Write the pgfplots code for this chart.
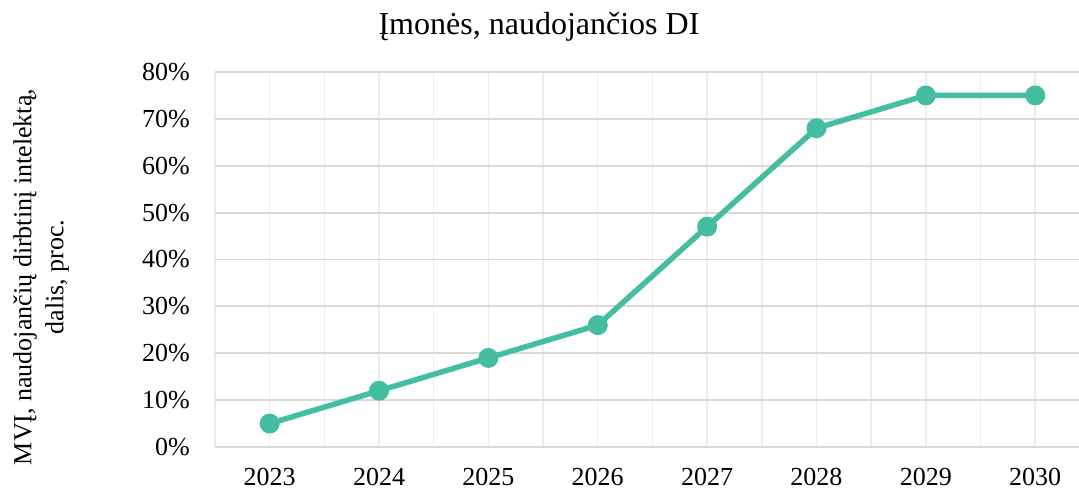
\documentclass[border=0pt]{standalone}
\usepackage{pgfplots}
\pgfplotsset{compat=1.18}
\usepackage{fontspec}
\setmainfont{Liberation Serif}
\definecolor{teal1}{RGB}{69,189,161}
\definecolor{hgrid}{RGB}{217,217,217}
\definecolor{vgrid}{RGB}{236,236,236}
\begin{document}
\begin{tikzpicture}
\useasboundingbox (-215pt,-46pt) rectangle (864pt,447pt);
\begin{axis}[
  at={(0,0)}, anchor=south west,
  width=864pt, height=375pt, scale only axis,
  xmin=2022.5, xmax=2030.4, ymin=0, ymax=80,
  xtick={2023,...,2030},
  minor xtick={2022.5,2023.5,...,2030.5},
  ytick={0,10,...,80},
  axis line style={draw=none},
  major tick length=0pt, minor tick length=0pt,
  xmajorgrids, xminorgrids, ymajorgrids,
  major x grid style={vgrid, line width=1.5pt},
  minor x grid style={vgrid, line width=1.5pt},
  major y grid style={hgrid, line width=1.8pt},
  /pgf/number format/assume math mode=true,
  /pgf/number format/1000 sep={},
  xticklabel style={font=\fontsize{26}{30}\selectfont, inner sep=0pt, anchor=north, yshift=-21pt},
  yticklabel style={font=\fontsize{26}{30}\selectfont, inner sep=0pt, anchor=east, xshift=-25pt},
  yticklabel={\pgfmathprintnumber{\tick}\%},
  clip=false,
]
\addplot[teal1, line width=5.5pt, mark=*, mark size=7.2pt, mark options={fill=teal1, draw=none}]
  coordinates {(2023,5) (2024,12) (2025,19) (2026,26) (2027,47) (2028,68) (2029,75) (2030,75)};
\node[anchor=base, font=\fontsize{32}{36}\selectfont, inner sep=0pt] at (rel axis cs:0.375,1) [yshift=37pt] {Įmonės, naudojančios DI};
\node[rotate=90, align=center, font=\fontsize{26}{32}\selectfont, inner sep=0pt] at (rel axis cs:-0.2014,0.4533) {MVĮ, naudojančių dirbtinį intelektą,\\dalis, proc.};
\end{axis}
\end{tikzpicture}
\end{document}
